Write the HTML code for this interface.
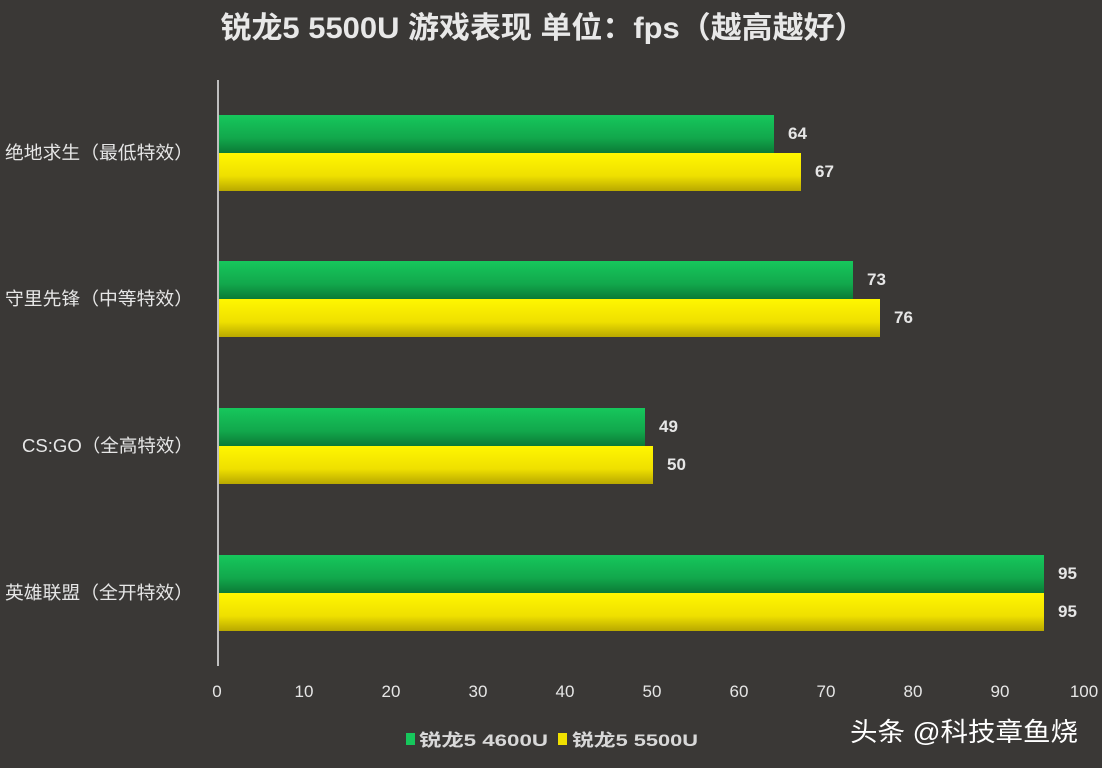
<!DOCTYPE html>
<html><head><meta charset="utf-8"><style>
html,body{margin:0;padding:0;background:#3a3836;}
svg{display:block}
text{font-family:"Liberation Sans","Noto Sans CJK SC",sans-serif;}
</style></head><body>
<svg width="1102" height="768" viewBox="0 0 1102 768" xmlns="http://www.w3.org/2000/svg">
<defs>
<linearGradient id="g" x1="0" y1="0" x2="0" y2="1"><stop offset="0" stop-color="#16c75c"/><stop offset="0.6" stop-color="#12a84c"/><stop offset="1" stop-color="#0b7a36"/></linearGradient>
<linearGradient id="y" x1="0" y1="0" x2="0" y2="1"><stop offset="0" stop-color="#fff700"/><stop offset="0.6" stop-color="#efe000"/><stop offset="1" stop-color="#b8a800"/></linearGradient>
</defs>
<rect width="1102" height="768" fill="#3a3836"/>
<text x="543" y="38" fill="#e8e8e8" font-size="30" font-weight="bold" text-anchor="middle" textLength="645" lengthAdjust="spacingAndGlyphs">锐龙5 5500U 游戏表现 单位：fps（越高越好）</text>
<g fill="#e6e6e6" font-size="17" text-anchor="middle">
<text x="217" y="697">0</text><text x="304" y="697">10</text><text x="391" y="697">20</text><text x="478" y="697">30</text><text x="565" y="697">40</text><text x="652" y="697">50</text><text x="739" y="697">60</text><text x="826" y="697">70</text><text x="913" y="697">80</text><text x="1000" y="697">90</text><text x="1084" y="697">100</text>
</g>
<rect x="218" y="115" width="556" height="38" fill="url(#g)"/>
<rect x="218" y="153" width="583" height="38" fill="url(#y)"/>
<rect x="218" y="261" width="635" height="38" fill="url(#g)"/>
<rect x="218" y="299" width="662" height="38" fill="url(#y)"/>
<rect x="218" y="408" width="427" height="38" fill="url(#g)"/>
<rect x="218" y="446" width="435" height="38" fill="url(#y)"/>
<rect x="218" y="555" width="826" height="38" fill="url(#g)"/>
<rect x="218" y="593" width="826" height="38" fill="url(#y)"/>
<line x1="218" y1="80" x2="218" y2="666" stroke="#bfbfbf" stroke-width="2"/>
<g fill="#e6e6e6" font-size="17" font-weight="bold">
<text x="788" y="139">64</text><text x="815" y="177">67</text>
<text x="867" y="285">73</text><text x="894" y="323">76</text>
<text x="659" y="432">49</text><text x="667" y="470">50</text>
<text x="1058" y="579">95</text><text x="1058" y="617">95</text>
</g>
<g fill="#e6e6e6" font-size="18" text-anchor="end">
<text x="193" y="159" textLength="188" lengthAdjust="spacingAndGlyphs">绝地求生（最低特效）</text>
<text x="193" y="305" textLength="188" lengthAdjust="spacingAndGlyphs">守里先锋（中等特效）</text>
<text x="193" y="452" textLength="171" lengthAdjust="spacingAndGlyphs">CS:GO（全高特效）</text>
<text x="193" y="599" textLength="188" lengthAdjust="spacingAndGlyphs">英雄联盟（全开特效）</text>
</g>
<rect x="406" y="733" width="9" height="12" fill="#16c75c"/>
<text x="419" y="746" fill="#d8d8d8" font-size="17" font-weight="bold" textLength="129" lengthAdjust="spacingAndGlyphs">锐龙5 4600U</text>
<rect x="558" y="733" width="9" height="12" fill="#f0e000"/>
<text x="572" y="746" fill="#d8d8d8" font-size="17" font-weight="bold" textLength="126" lengthAdjust="spacingAndGlyphs">锐龙5 5500U</text>
<text x="850" y="741" fill="#ffffff" font-size="26" textLength="228" lengthAdjust="spacingAndGlyphs">头条 @科技章鱼烧</text>
</svg>
</body></html>
